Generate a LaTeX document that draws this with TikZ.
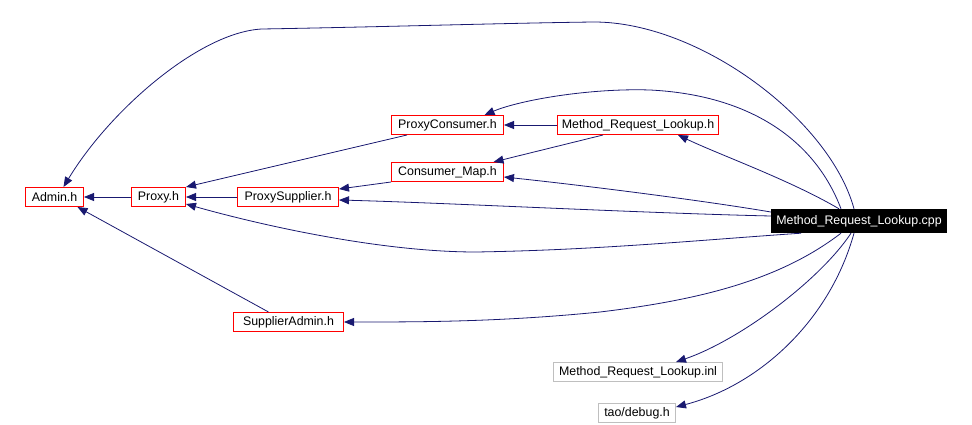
\documentclass[tikz,border=0pt]{standalone}
\usepackage{fontspec}
\setmainfont{Liberation Sans}
\usetikzlibrary{arrows.meta}
\definecolor{edgeBlue}{RGB}{25,25,112}
\definecolor{hdrRed}{RGB}{255,0,0}
\definecolor{extGray}{RGB}{191,191,191}

\begin{document}
\begin{tikzpicture}[x=1pt, y=-1pt,
  every node/.style={font=\fontsize{12.4}{14}\selectfont},
  hdr/.style={draw=hdrRed, line width=1pt, fill=white,
              minimum height=19pt, inner xsep=2pt, inner ysep=0pt},
  ext/.style={hdr, draw=extGray},
  root/.style={fill=black, text=white, minimum height=24pt,
               inner xsep=2pt, inner ysep=0pt},
  dep/.style={edgeBlue, line width=0.8pt, -{Triangle[length=10pt,width=8pt]}},
]
\useasboundingbox (0,0) rectangle (972,425);

% Left column: Admin <- Proxy <- ProxySupplier
\node[hdr, minimum width=58pt] (admin) at (54.5,197) {Admin.h};
\node[hdr, minimum width=54pt] (proxy) at (158.5,197) {Proxy.h};
\node[hdr, minimum width=101pt] (psup) at (288,197) {ProxySupplier.h};
\node[hdr, minimum width=110pt] (sadm) at (288.5,322) {SupplierAdmin.h};

% Middle: consumer side
\node[hdr, minimum width=112pt] (pcons) at (447.5,125) {ProxyConsumer.h};
\node[hdr, minimum width=112pt] (cmap) at (447.5,172) {Consumer\_Map.h};
\node[hdr, minimum width=161pt] (mrlh) at (638,125) {Method\_Request\_Lookup.h};

% Files with no further includes shown
\node[ext, minimum width=169pt] (inl) at (638,372) {Method\_Request\_Lookup.inl};
\node[ext, minimum width=77pt] (debug) at (637,413) {tao/debug.h};

% The file itself
\node[root, minimum width=176pt] (cpp) at (859,221) {Method\_Request\_Lookup.cpp};

% Includes of the .cpp
\draw[dep] ([xshift=-5pt]cpp.north) .. controls (830,120) and (700,22) .. (594,22)
  .. controls (510,23) and (380,27) .. (262,29)
  .. controls (200,32) and (110,110) .. ([xshift=9pt]admin.north);
\draw[dep] ([xshift=-18pt]cpp.north) .. controls (815,140) and (750,95) .. (650,90)
  .. controls (590,88) and (520,100) .. ([xshift=37pt]pcons.north);
\draw[dep] ([xshift=-20pt]cpp.north) .. controls (790,180) and (720,155) .. ([xshift=40pt]mrlh.south);
\draw[dep] ([yshift=9pt]cpp.west) .. controls (700,200) and (580,185) .. ([yshift=-5pt]cmap.east);
\draw[dep] ([yshift=5pt]cpp.west) .. controls (640,213) and (450,203) .. ([yshift=-3pt]psup.east);
\draw[dep] ([xshift=-58pt]cpp.south) .. controls (700,240) and (600,250) .. (476,252)
  .. controls (380,252) and (260,225) .. ([yshift=3pt]proxy.south east);
\draw[dep] ([xshift=-18pt]cpp.south) .. controls (780,280) and (700,300) .. (600,312)
  .. controls (500,322) and (420,322) .. (sadm.east);
\draw[dep] ([xshift=-8pt]cpp.south) .. controls (820,280) and (740,340) .. ([xshift=38pt]inl.north);
\draw[dep] ([xshift=-5pt]cpp.south) .. controls (830,320) and (760,385) .. ([yshift=6pt]debug.east);

% Header to header
\draw[dep] (mrlh.west) -- (pcons.east);
\draw[dep] ([xshift=-35pt]mrlh.south) -- ([xshift=46pt]cmap.north);
\draw[dep] ([xshift=16pt]pcons.south west) -- (proxy.north east);
\draw[dep] (cmap.south west) -- ([yshift=-2pt]psup.north east);
\draw[dep] (psup.west) -- (proxy.east);
\draw[dep] (proxy.west) -- (admin.east);
\draw[dep] ([xshift=-20pt]sadm.north) -- ([xshift=23pt]admin.south);

\end{tikzpicture}
\end{document}
